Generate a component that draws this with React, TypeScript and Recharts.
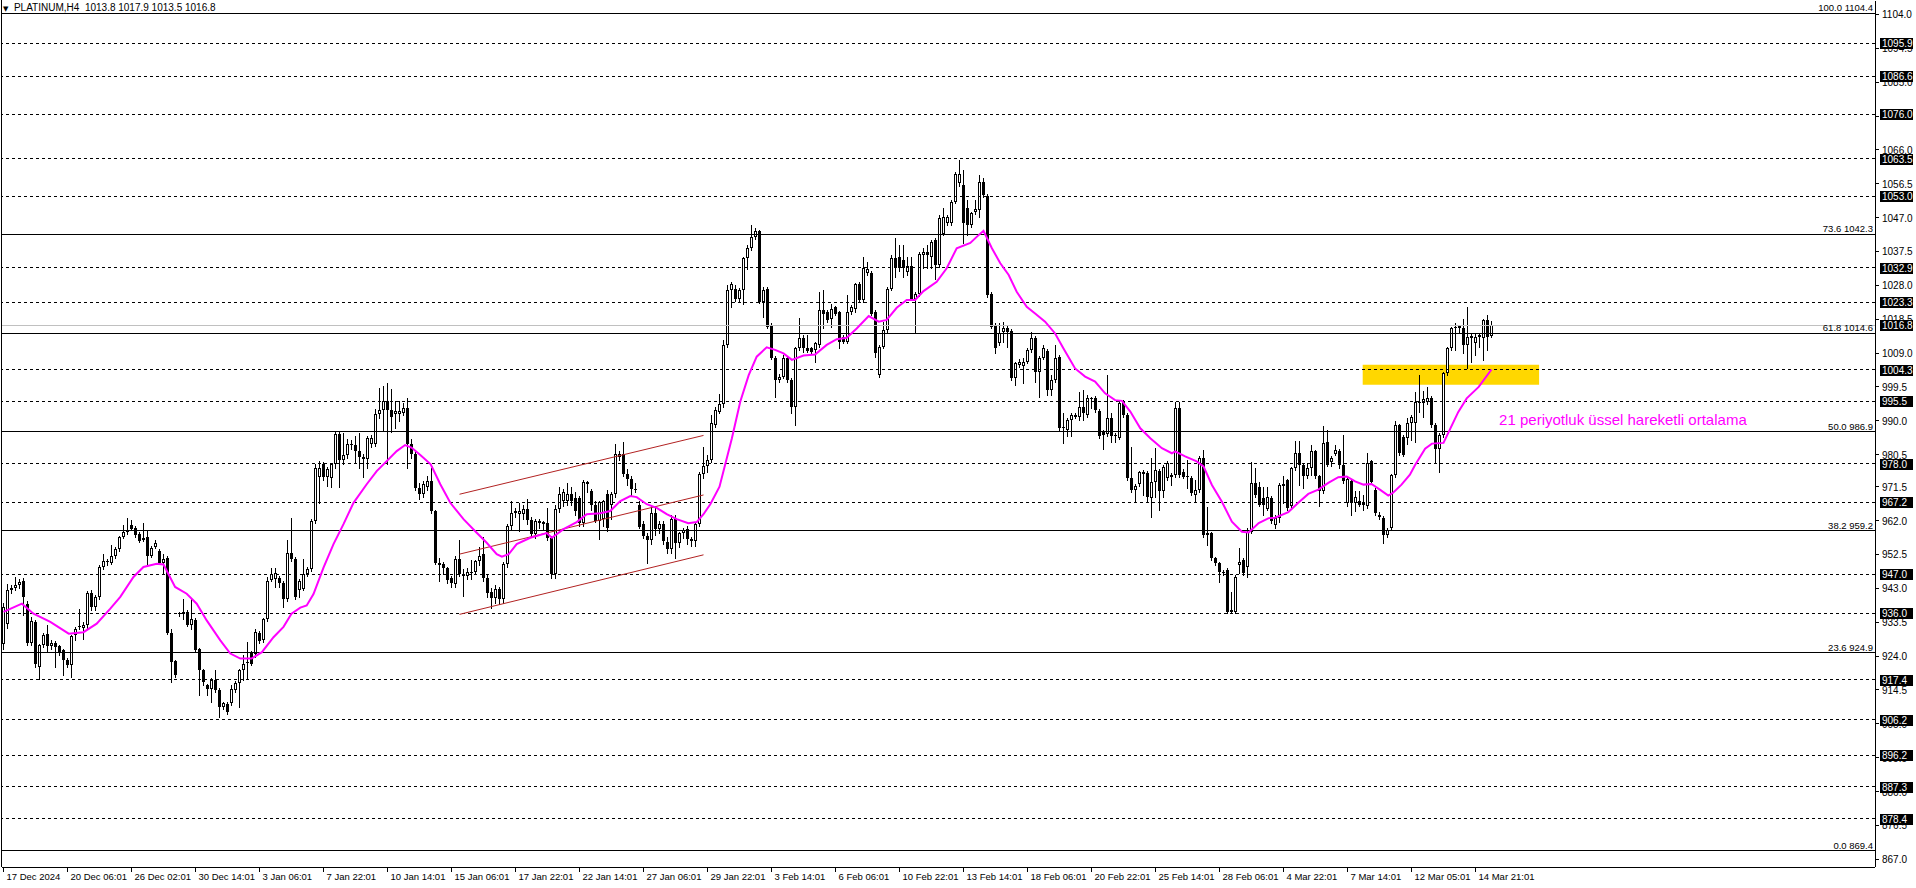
import React from "react";
import {
  ComposedChart,
  Bar,
  Line,
  XAxis,
  YAxis,
  ReferenceLine,
  ReferenceArea,
  ReferenceDot,
} from "recharts";

// PLATINUM H4 bars, 17 Dec 2024 -> 17 Mar 2025
const opens = [
  927.5, 933.0, 942.6, 943.2, 943.8, 945.0, 938.7, 927.8, 933.6, 921.0,
  927.0, 930.3, 926.7, 927.8, 926.8, 925.6, 923.0, 921.4, 929.8, 932.2,
  932.0, 932.8, 941.8, 937.8, 940.6, 949.0, 950.5, 950.1, 952.0, 953.9,
  957.4, 958.8, 960.7, 959.9, 958.3, 957.2, 957.4, 952.2, 954.6, 953.5,
  950.2, 951.5, 930.6, 922.5, 935.8, 935.7, 936.4, 932.8, 934.0, 925.9,
  920.0, 915.8, 914.9, 917.4, 914.6, 909.7, 910.5, 910.9, 914.4, 916.5,
  920.0, 922.0, 924.9, 924.7, 930.5, 928.4, 934.3, 945.4, 945.7, 945.9,
  944.5, 939.9, 952.9, 951.3, 942.6, 942.9, 947.1, 948.5, 961.9, 974.1,
  977.8, 974.1, 973.9, 977.8, 986.2, 978.9, 980.4, 983.6, 983.2, 981.5,
  979.9, 979.2, 983.6, 983.6, 991.8, 992.9, 995.6, 993.0, 991.8, 991.8,
  992.3, 993.7, 983.6, 980.8, 971.1, 969.4, 971.5, 973.0, 964.7, 950.2,
  949.8, 948.6, 945.8, 944.3, 951.2, 947.0, 946.5, 947.7, 947.7, 950.7,
  952.6, 945.8, 942.1, 940.4, 942.8, 939.9, 949.8, 960.5, 964.2, 963.8,
  963.8, 965.4, 962.2, 958.2, 961.4, 961.0, 961.4, 957.2, 947.0, 965.2,
  967.5, 967.5, 969.4, 968.3, 968.3, 961.4, 972.2, 970.3, 966.4, 961.8,
  962.4, 969.4, 966.4, 969.4, 979.9, 980.6, 975.2, 973.6, 971.0, 966.5,
  961.0, 957.7, 956.5, 964.0, 959.6, 961.0, 956.0, 954.0, 962.4, 955.8,
  958.4, 959.6, 956.8, 956.3, 961.0, 975.0, 977.3, 978.9, 988.8, 992.6,
  994.6, 1011.2, 1026.7, 1027.1, 1024.3, 1026.7, 1035.7, 1038.4, 1041.6, 1043.2,
  1023.2, 1027.1, 1016.9, 1007.7, 1001.4, 1002.4, 1007.5, 1001.4, 994.0, 1010.3,
  1013.1, 1010.5, 1010.3, 1009.9, 1011.2, 1021.1, 1020.6, 1018.7, 1021.8, 1020.4,
  1013.6, 1012.2, 1020.6, 1021.5, 1028.3, 1023.9, 1031.4, 1031.4, 1020.6, 1002.8,
  1010.8, 1015.5, 1027.1, 1035.6, 1036.0, 1035.1, 1031.8, 1033.4, 1024.3, 1025.7,
  1036.5, 1037.4, 1036.0, 1040.7, 1033.7, 1042.5, 1045.4, 1045.4, 1051.4, 1056.6,
  1056.1, 1049.6, 1044.9, 1048.6, 1049.1, 1057.0, 1053.1, 1025.6, 1016.9, 1011.7,
  1015.0, 1016.1, 1015.2, 1001.9, 1005.6, 1005.4, 1006.6, 1009.9, 1013.3, 1003.8,
  1007.7, 1009.6, 998.6, 1001.4, 1008.0, 987.9, 987.4, 990.2, 991.2, 991.2,
  993.8, 991.6, 996.3, 996.5, 992.8, 987.0, 986.2, 990.7, 985.6, 985.3,
  995.2, 991.6, 973.9, 970.6, 972.2, 975.0, 975.3, 968.3, 972.9, 975.9,
  970.3, 973.9, 974.3, 974.8, 993.5, 975.6, 974.6, 973.9, 969.2, 970.6,
  979.7, 958.4, 958.4, 951.4, 950.0, 947.7, 948.2, 936.5, 936.5, 949.6,
  951.0, 949.1, 958.9, 972.5, 971.5, 968.3, 965.4, 968.3, 960.9, 962.8,
  971.8, 973.3, 966.0, 976.8, 981.0, 977.5, 974.4, 976.8, 981.4, 974.4,
  970.2, 984.1, 978.4, 980.8, 981.6, 977.7, 966.9, 973.0, 966.9, 967.4,
  967.0, 966.0, 978.6, 970.7, 963.7, 962.8, 957.9, 959.8, 974.7, 988.7,
  985.5, 985.2, 989.3, 989.3, 995.3, 994.9, 995.3, 996.4, 988.8, 982.2,
  986.0, 1003.3, 1010.3, 1015.9, 1015.9, 1015.9, 1011.2, 1013.8, 1011.7, 1014.2,
  1013.1, 1018.2, 1013.8,
];

const highs = [
  939.0, 944.1, 943.8, 946.2, 945.7, 945.8, 939.5, 935.0, 934.2, 927.5,
  930.5, 932.6, 928.5, 928.3, 927.2, 926.0, 923.5, 930.0, 932.2, 937.3,
  933.5, 942.3, 942.5, 941.2, 949.5, 952.7, 951.2, 955.1, 954.5, 957.8,
  960.7, 962.8, 962.2, 960.5, 958.8, 961.3, 959.5, 954.8, 956.5, 954.0,
  952.7, 952.0, 931.7, 923.0, 936.5, 940.1, 937.0, 940.1, 934.6, 926.3,
  920.5, 916.3, 917.9, 920.2, 915.0, 911.2, 911.0, 915.8, 916.9, 920.4,
  924.2, 927.9, 925.4, 931.7, 931.0, 934.8, 946.2, 948.8, 948.8, 946.4,
  945.0, 956.5, 962.8, 951.8, 945.5, 951.3, 949.0, 962.4, 977.8, 978.7,
  978.5, 977.0, 978.3, 987.1, 986.9, 986.5, 985.0, 984.6, 985.7, 986.7,
  980.8, 985.6, 986.0, 993.2, 999.3, 999.8, 1000.7, 998.8, 995.5, 995.5,
  995.0, 996.5, 985.0, 981.5, 972.5, 973.0, 974.5, 976.9, 965.0, 951.5,
  950.5, 949.0, 946.5, 952.0, 956.5, 948.5, 948.8, 951.0, 951.0, 954.5,
  957.5, 947.0, 943.0, 944.0, 943.5, 950.3, 961.0, 967.5, 965.5, 967.0,
  966.5, 968.0, 963.0, 962.5, 962.5, 962.0, 965.5, 957.8, 966.5, 971.5,
  971.0, 972.5, 971.3, 970.0, 969.0, 973.5, 973.0, 971.0, 967.5, 967.5,
  967.8, 970.5, 970.0, 983.5, 981.5, 984.1, 976.5, 974.5, 972.5, 967.5,
  962.0, 958.5, 966.0, 965.5, 962.0, 962.0, 957.5, 963.5, 963.5, 958.8,
  960.0, 960.5, 957.5, 961.5, 975.5, 982.6, 980.5, 991.6, 993.9, 997.6,
  1012.6, 1028.1, 1029.0, 1028.0, 1027.3, 1036.0, 1039.3, 1044.9, 1044.0, 1043.6,
  1027.6, 1027.6, 1017.3, 1008.2, 1003.0, 1008.4, 1008.0, 1002.0, 1010.8, 1018.9,
  1014.0, 1014.1, 1010.8, 1012.2, 1026.2, 1026.7, 1021.0, 1022.9, 1022.3, 1020.9,
  1014.0, 1025.3, 1022.5, 1028.8, 1029.0, 1036.0, 1034.6, 1032.0, 1021.1, 1011.3,
  1017.8, 1027.6, 1036.5, 1041.2, 1039.3, 1039.3, 1036.0, 1036.0, 1026.2, 1037.4,
  1038.4, 1039.3, 1040.6, 1041.2, 1047.7, 1049.6, 1047.7, 1051.9, 1059.9, 1063.1,
  1060.3, 1051.9, 1048.7, 1051.9, 1058.9, 1058.2, 1053.6, 1026.1, 1017.4, 1017.3,
  1017.8, 1017.0, 1015.7, 1006.6, 1007.3, 1007.5, 1010.3, 1015.0, 1013.8, 1008.2,
  1011.2, 1010.1, 1002.8, 1011.3, 1008.5, 992.1, 990.7, 992.1, 992.1, 998.2,
  998.6, 997.2, 996.7, 997.0, 993.3, 987.5, 1002.8, 992.1, 986.6, 995.8,
  995.7, 992.1, 982.7, 972.3, 976.0, 976.2, 975.8, 979.7, 982.3, 976.4,
  977.6, 978.6, 975.3, 995.4, 995.4, 976.6, 979.0, 974.4, 973.4, 980.0,
  981.8, 965.9, 958.9, 951.9, 950.5, 948.2, 948.7, 942.1, 946.8, 954.3,
  951.5, 959.9, 978.5, 976.7, 972.9, 971.3, 971.3, 968.8, 963.7, 972.5,
  974.4, 973.6, 977.0, 984.2, 984.2, 978.0, 978.2, 983.3, 981.9, 974.9,
  988.5, 987.5, 980.1, 983.3, 982.1, 986.1, 974.5, 973.5, 970.2, 970.2,
  969.3, 981.0, 979.1, 971.2, 964.5, 963.3, 960.0, 975.2, 989.9, 989.2,
  986.0, 990.7, 991.6, 998.1, 1002.8, 998.5, 999.5, 996.9, 989.3, 986.5,
  1003.8, 1010.8, 1016.4, 1017.4, 1016.9, 1018.7, 1022.0, 1014.5, 1014.5, 1014.7,
  1018.7, 1019.6, 1017.9,
];

const lows = [
  926.0, 932.0, 941.8, 942.5, 943.0, 935.4, 927.0, 927.0, 920.9, 917.7,
  926.5, 925.1, 926.0, 920.9, 924.2, 918.6, 920.8, 918.1, 928.4, 931.7,
  928.9, 932.0, 937.0, 937.0, 940.0, 948.5, 949.6, 949.8, 951.5, 953.5,
  957.0, 958.3, 959.3, 957.5, 956.0, 956.2, 949.4, 951.7, 954.2, 949.8,
  947.1, 930.2, 916.7, 918.1, 935.3, 934.5, 932.3, 931.7, 925.3, 913.0,
  915.8, 913.0, 911.1, 913.9, 906.9, 909.2, 907.8, 910.4, 913.9, 909.7,
  917.2, 917.7, 921.4, 923.7, 927.6, 928.0, 933.8, 945.0, 943.4, 943.4,
  937.8, 939.4, 950.8, 940.1, 940.6, 942.4, 946.6, 948.0, 961.4, 967.0,
  973.5, 971.7, 971.4, 976.9, 971.3, 978.0, 979.6, 982.0, 978.3, 976.9,
  974.1, 976.9, 982.6, 983.0, 990.8, 987.1, 977.8, 987.0, 988.0, 990.0,
  991.5, 976.9, 979.5, 970.5, 968.0, 968.5, 970.5, 964.0, 949.8, 945.0,
  947.0, 944.5, 943.5, 943.5, 946.5, 940.9, 945.5, 945.5, 947.0, 949.5,
  945.0, 940.5, 937.5, 939.0, 938.5, 939.0, 949.0, 959.5, 963.0, 959.0,
  962.5, 961.0, 957.5, 957.0, 960.0, 959.5, 956.5, 946.0, 946.0, 964.5,
  966.0, 966.5, 966.5, 963.5, 960.5, 960.5, 970.0, 965.0, 961.5, 956.8,
  960.5, 959.0, 962.5, 968.5, 979.0, 974.5, 972.0, 969.0, 970.0, 960.0,
  957.0, 950.2, 955.5, 958.0, 958.5, 955.5, 953.0, 953.0, 951.5, 954.5,
  957.0, 955.5, 955.0, 955.0, 960.5, 974.0, 975.5, 978.4, 988.3, 992.1,
  994.0, 1010.7, 1022.0, 1023.5, 1023.4, 1022.9, 1032.7, 1037.8, 1041.0, 1023.0,
  1019.2, 1016.0, 1007.3, 996.8, 1000.8, 1001.9, 1000.9, 992.1, 988.8, 1009.8,
  1009.4, 1009.2, 1008.9, 1006.6, 1010.7, 1015.9, 1017.8, 1016.4, 1019.6, 1010.3,
  1011.7, 1011.7, 1020.0, 1020.6, 1023.4, 1023.4, 1030.9, 1019.6, 1008.0, 1002.3,
  1010.3, 1015.0, 1026.6, 1030.4, 1031.9, 1030.4, 1031.0, 1023.8, 1015.0, 1025.0,
  1032.8, 1032.8, 1032.8, 1029.9, 1033.2, 1042.0, 1045.0, 1045.0, 1051.0, 1056.0,
  1039.8, 1042.1, 1044.4, 1048.1, 1047.3, 1052.8, 1024.8, 1015.9, 1008.9, 1011.2,
  1012.2, 1010.8, 1001.4, 1000.0, 1005.1, 1000.5, 1006.1, 1009.4, 1001.0, 996.8,
  1007.2, 997.2, 997.2, 1000.9, 987.4, 983.7, 985.6, 985.6, 990.7, 990.2,
  990.2, 991.1, 993.5, 992.5, 985.1, 982.0, 985.7, 984.1, 984.1, 984.8,
  991.1, 973.4, 970.1, 967.3, 971.7, 969.2, 967.3, 963.1, 968.7, 965.0,
  968.7, 973.4, 972.0, 974.3, 974.3, 974.0, 971.1, 969.2, 967.3, 970.1,
  957.5, 955.2, 951.0, 949.5, 944.9, 946.8, 936.0, 936.0, 936.0, 947.2,
  946.8, 946.3, 958.4, 968.7, 966.0, 963.6, 964.9, 961.3, 959.9, 961.7,
  967.0, 965.1, 965.5, 976.3, 972.1, 971.2, 973.9, 974.9, 973.9, 966.0,
  969.7, 977.2, 977.2, 980.3, 976.8, 972.6, 966.0, 963.7, 964.6, 966.0,
  965.1, 965.5, 972.3, 963.7, 962.4, 955.7, 957.4, 959.3, 974.2, 980.5,
  980.0, 983.6, 984.6, 984.1, 992.5, 991.1, 994.8, 988.3, 978.5, 975.7,
  985.5, 1002.8, 1009.8, 1009.8, 1015.0, 1008.9, 1004.7, 1006.5, 1008.4, 1010.8,
  1007.0, 1009.8, 1013.5,
];

const closes = [
  937.8, 942.6, 943.2, 943.8, 944.8, 940.6, 927.8, 933.8, 921.7, 927.0,
  930.0, 926.7, 927.8, 926.5, 924.8, 922.8, 921.4, 929.5, 931.7, 932.4,
  932.8, 941.8, 937.8, 940.7, 949.0, 950.6, 950.8, 952.1, 953.9, 957.4,
  958.8, 959.5, 959.7, 958.0, 956.4, 956.6, 952.2, 954.3, 955.6, 950.2,
  951.3, 930.6, 922.2, 918.8, 936.0, 936.4, 932.8, 934.3, 925.6, 920.0,
  916.7, 914.9, 917.4, 914.6, 909.7, 910.7, 908.3, 914.9, 916.5, 920.0,
  921.9, 922.4, 921.9, 930.7, 928.1, 934.3, 945.2, 947.1, 947.3, 944.5,
  939.9, 952.9, 951.3, 940.7, 945.0, 947.1, 948.5, 961.9, 976.9, 976.7,
  974.1, 976.4, 977.8, 986.2, 978.9, 980.4, 983.6, 983.2, 981.5, 979.9,
  979.2, 985.1, 985.3, 991.8, 992.9, 995.6, 993.0, 991.0, 992.8, 992.8,
  993.7, 983.6, 980.6, 971.1, 969.4, 972.2, 973.0, 964.7, 950.2, 949.6,
  948.6, 945.4, 944.6, 951.2, 947.0, 946.5, 947.7, 947.3, 950.7, 952.1,
  945.8, 941.6, 940.4, 942.8, 939.9, 949.8, 960.5, 964.2, 964.7, 964.7,
  965.2, 962.2, 958.2, 961.9, 961.8, 961.6, 957.2, 947.0, 965.2, 969.4,
  969.9, 969.6, 967.5, 964.7, 961.4, 972.7, 972.7, 966.4, 962.0, 967.3,
  967.5, 960.0, 969.4, 980.6, 980.8, 975.0, 973.6, 970.8, 970.5, 960.2,
  957.7, 956.5, 964.0, 959.6, 961.0, 956.3, 954.0, 962.4, 955.8, 958.4,
  959.4, 956.8, 956.3, 961.0, 975.0, 977.3, 978.9, 989.3, 993.0, 994.6,
  1011.2, 1026.7, 1028.5, 1024.3, 1026.7, 1035.6, 1038.4, 1041.6, 1043.2, 1023.2,
  1026.7, 1016.4, 1007.7, 1001.4, 1002.4, 1007.5, 1001.4, 994.0, 1010.3, 1013.1,
  1010.3, 1009.6, 1009.4, 1011.7, 1021.1, 1020.1, 1018.3, 1021.5, 1020.1, 1012.2,
  1012.2, 1020.6, 1022.0, 1028.3, 1023.9, 1032.9, 1032.7, 1020.1, 1008.9, 1010.8,
  1015.5, 1027.1, 1035.6, 1032.8, 1032.8, 1032.8, 1033.3, 1024.3, 1025.7, 1036.9,
  1037.4, 1036.5, 1040.2, 1033.7, 1046.8, 1047.2, 1047.2, 1051.4, 1059.1, 1059.1,
  1045.4, 1044.9, 1048.2, 1049.3, 1057.0, 1053.3, 1025.3, 1016.4, 1010.3, 1014.5,
  1015.9, 1015.0, 1001.9, 1006.1, 1006.6, 1006.5, 1009.9, 1013.3, 1003.8, 1007.7,
  1010.3, 998.6, 1001.4, 1007.7, 987.9, 988.3, 990.2, 991.6, 991.6, 993.8,
  992.1, 996.3, 996.5, 993.0, 985.6, 986.0, 990.7, 985.8, 986.1, 994.9,
  991.6, 973.9, 970.6, 971.8, 975.5, 975.5, 968.5, 972.9, 976.2, 970.3,
  977.1, 978.1, 974.8, 993.5, 974.8, 974.3, 974.3, 969.7, 970.6, 979.7,
  958.0, 958.0, 951.4, 950.0, 947.7, 947.2, 936.5, 936.9, 946.3, 950.5,
  947.2, 958.9, 972.5, 969.2, 966.4, 966.4, 968.7, 961.9, 962.8, 972.1,
  972.4, 965.6, 976.8, 981.0, 977.5, 974.4, 976.8, 981.4, 974.4, 970.2,
  983.8, 977.7, 979.6, 981.9, 977.7, 973.0, 973.8, 967.0, 968.5, 966.5,
  966.3, 978.2, 972.8, 964.2, 962.9, 958.1, 959.5, 974.7, 988.7, 981.0,
  980.4, 989.4, 991.1, 995.3, 994.9, 996.2, 996.4, 988.8, 982.2, 986.0,
  1003.3, 1010.3, 1015.9, 1016.4, 1016.6, 1011.2, 1013.5, 1013.3, 1013.5, 1013.6,
  1018.2, 1013.5, 1016.8,
];

// 21-period EMA as drawn (bar position, value)
const emaBars = [
  0, 4.6, 7.5, 11.7, 16.3, 20, 23.3, 26.7, 29.2, 32.5,
  35, 38.3, 40, 42.9, 45.8, 48.3, 50.8, 54.2, 56.7, 59.2,
  62, 64.6, 67.5, 70, 72, 74.2, 75.8, 77.5, 80, 82.5,
  85, 87.5, 90.8, 93.3, 95.8, 98.3, 100.4, 102, 104.2, 106.8,
  109.2, 111.7, 115, 118.3, 120.8, 123.3, 124.6, 126.3, 128.3, 131.7,
  135.8, 137.1, 140, 143.3, 145.8, 149.2, 151.7, 154.2, 156.7, 158.3,
  160.8, 163.3, 165.8, 168.3, 171.2, 173.3, 175, 176.7, 179, 182.1,
  184.2, 186.3, 188.3, 190.8, 192.9, 195, 197.1, 200, 202.9, 205.8,
  208.3, 210.8, 213.3, 216.3, 218.8, 220.8, 223.3, 225.8, 227.9, 230,
  233.3, 235.8, 238.3, 241.7, 243.3, 245, 247.1, 249.2, 251.3, 253.3,
  255.8, 257.9, 260.4, 262.9, 265, 267.9, 270.4, 272.9, 275.4, 277.9,
  279.6, 281.7, 284.2, 286.7, 289.6, 292.1, 292.9, 295.4, 298.3, 300,
  302.1, 304.6, 307.1, 309.6, 311.3, 313.8, 316.3, 317.9, 321.2, 323.7,
  326.2, 328.7, 331.2, 333.7, 335.8, 337.9, 340, 342, 344.1, 346.2,
  347.4, 349.5, 351.6, 352.9, 355.4, 357.1, 360, 361.7, 363.7, 365.8,
  368.8, 372,
];
const emaValues = [
  936.4, 938.7, 935.9, 933.6, 930.3, 930.7, 933.1, 937.3, 940.6, 946.2,
  949.0, 949.9, 949.7, 943.4, 941.5, 938.7, 934.0, 928.4, 924.7, 923.3,
  923.3, 925.1, 929.3, 932.2, 935.9, 937.6, 938.2, 941.4, 948.8, 955.4,
  961.0, 967.0, 972.2, 975.9, 978.7, 981.5, 983.2, 982.5, 980.4, 977.8,
  972.2, 967.0, 962.4, 958.6, 955.8, 952.6, 951.9, 952.6, 955.4, 957.2,
  958.5, 957.2, 959.6, 961.6, 963.8, 964.1, 964.7, 967.5, 968.9, 968.6,
  966.6, 965.6, 963.8, 962.4, 961.3, 961.6, 963.8, 966.6, 971.5, 985.1,
  995.4, 1002.8, 1008.0, 1010.6, 1009.9, 1008.9, 1007.1, 1008.3, 1008.6, 1011.3,
  1012.9, 1013.3, 1015.9, 1019.4, 1017.8, 1018.3, 1021.7, 1023.9, 1023.9, 1026.4,
  1029.0, 1032.8, 1038.4, 1039.9, 1041.6, 1043.3, 1038.4, 1034.2, 1030.9, 1026.2,
  1022.0, 1020.1, 1017.8, 1014.5, 1010.3, 1004.7, 1002.4, 1001.0, 997.7, 995.8,
  995.6, 992.6, 987.9, 985.1, 982.3, 980.9, 981.4, 980.0, 978.6, 977.2,
  972.0, 967.3, 961.7, 958.9, 958.7, 961.3, 962.7, 962.8, 964.4, 967.0,
  969.5, 970.7, 972.6, 974.2, 974.4, 973.0, 972.1, 972.3, 970.7, 969.0,
  969.8, 972.1, 974.9, 977.6, 982.2, 983.6, 983.8, 987.8, 992.5, 996.3,
  999.5, 1004.4,
];

// time axis: one label every 16 bars
const timeLabels = [
  "17 Dec 2024", "20 Dec 06:01", "26 Dec 02:01", "30 Dec 14:01", "3 Jan 06:01",
  "7 Jan 22:01", "10 Jan 14:01", "15 Jan 06:01", "17 Jan 22:01", "22 Jan 14:01",
  "27 Jan 06:01", "29 Jan 22:01", "3 Feb 14:01", "6 Feb 06:01", "10 Feb 22:01",
  "13 Feb 14:01", "18 Feb 06:01", "20 Feb 22:01", "25 Feb 14:01", "28 Feb 06:01",
  "4 Mar 22:01", "7 Mar 14:01", "12 Mar 05:01", "14 Mar 21:01",
];
const barsPerLabel = 16;

const priceTicks = [
  1104.0, 1094.5, 1085.0, 1075.5, 1066.0, 1056.5, 1047.0, 1037.5, 1028.0,
  1018.5, 1009.0, 999.5, 990.0, 980.5, 971.5, 962.0, 952.5, 943.0, 933.5,
  924.0, 914.5, 905.0, 895.5, 886.0, 876.5, 867.0,
];

// horizontal levels (dashed) with their black price tags
const levelPrices = [
  1095.9, 1086.6, 1076.0, 1063.5, 1053.0, 1032.9, 1023.3, 1004.3, 995.5,
  978.0, 967.2, 947.0, 936.0, 917.4, 906.2, 896.2, 887.3, 878.4,
];

// fibonacci retracement
const fibRatios = ["100.0", "73.6", "61.8", "50.0", "38.2", "23.6", "0.0"];
const fibPrices = [1104.4, 1042.3, 1014.6, 986.9, 959.2, 924.9, 869.4];

// rising channel (start bar, end bar, three parallel lines)
const channelBars = [114, 175];
const channelStart = [969.4, 952.6, 935.7];
const channelEnd = [985.9, 969.2, 952.4];

// yellow zone
const zoneBars = [339.8, 383.9];
const zonePrices = [1000.1, 1005.7];

const noteText = "21 periyotluk üssel hareketli ortalama";
const noteBar = 373.9;
const notePrice = 989.9;

const FONT = '"Liberation Sans", Arial, sans-serif';
const n = closes.length;
const lastPrice = closes[n - 1];

const candles = closes.map((c, i) => ({
  i,
  o: opens[i],
  h: highs[i],
  l: lows[i],
  c,
}));
const emaRows = emaBars.map((b, k) => ({ i: b, ema: emaValues[k] }));

const Candle = (props: any) => {
  const { x, y, width, height, payload } = props;
  if (!payload || x == null) return null;
  const { o, h, l, c } = payload;
  const top = Math.min(y, y + height);
  const span = Math.abs(height);
  const k = h > l ? span / (h - l) : 0;
  const py = (v: number) => top + (h - v) * k;
  const cx = Math.floor(x + width / 2) + 0.5;
  const bTop = Math.round(py(Math.max(o, c)));
  const bBot = Math.round(py(Math.min(o, c)));
  const bull = c >= o;
  return (
    <g shapeRendering="crispEdges">
      <line
        x1={cx}
        x2={cx}
        y1={Math.round(py(h))}
        y2={Math.round(py(l)) + 1}
        stroke="#000"
      />
      {bBot - bTop < 2 ? (
        <line x1={cx - 1.5} x2={cx + 1.5} y1={bTop + 0.5} y2={bTop + 0.5} stroke="#000" />
      ) : bull ? (
        <rect
          x={cx - 1}
          y={bTop + 0.5}
          width={2}
          height={bBot - bTop - 1}
          fill="#fff"
          stroke="#000"
        />
      ) : (
        <rect x={cx - 1.5} y={bTop} width={3} height={bBot - bTop} fill="#000" />
      )}
    </g>
  );
};

const PriceTick = (props: any) => {
  const { x, y, payload } = props;
  const v = payload.value as number;
  const boxed = levelPrices.includes(v) || v === lastPrice;
  if (boxed) {
    return (
      <g>
        <rect x={x + 5} y={Math.round(y) - 5} width={33} height={11} fill="#000" />
        <text
          x={x + 7}
          y={y + 4}
          fill="#fff"
          fontSize={10}
          fontFamily={FONT}
        >
          {v.toFixed(1)}
        </text>
      </g>
    );
  }
  return (
    <g>
      <line x1={x} x2={x + 4} y1={y} y2={y} stroke="#000" shapeRendering="crispEdges" />
      <text x={x + 7} y={y + 4} fill="#000" fontSize={10} fontFamily={FONT}>
        {v.toFixed(1)}
      </text>
    </g>
  );
};

const TimeTick = (props: any) => {
  const { x, y, payload } = props;
  const label = timeLabels[Math.round(payload.value / barsPerLabel)];
  return (
    <g>
      <line x1={x} x2={x} y1={y} y2={y + 5} stroke="#000" shapeRendering="crispEdges" />
      <text x={x + 3} y={y + 13} fill="#000" fontSize={9.5} fontFamily={FONT}>
        {label}
      </text>
    </g>
  );
};

const FibLabel = ({ viewBox, text }: any) =>
  viewBox ? (
    <text
      x={viewBox.x + viewBox.width - 2}
      y={viewBox.y - 2}
      textAnchor="end"
      fill="#000"
      fontSize={9.5}
      fontFamily={FONT}
    >
      {text}
    </text>
  ) : null;

const NoteLabel = ({ viewBox }: any) =>
  viewBox ? (
    <text
      x={viewBox.x}
      y={viewBox.y}
      dominantBaseline="middle"
      fill="#ff00ff"
      fontSize={15}
      fontFamily={FONT}
    >
      {noteText}
    </text>
  ) : null;

export default function App() {
  return (
    <div
      style={{
        position: "absolute",
        left: 0,
        top: 0,
        width: 1916,
        height: 888,
        background: "#fff",
      }}
    >
      <ComposedChart
        width={1916}
        height={888}
        data={candles}
        margin={{ top: 1, right: 0, bottom: 0, left: 2 }}
      >
        <XAxis
          type="number"
          dataKey="i"
          domain={[-0.375, 467.875]}
          allowDataOverflow
          ticks={timeLabels.map((_, k) => k * barsPerLabel)}
          interval={0}
          tick={<TimeTick />}
          tickLine={false}
          tickSize={0}
          tickMargin={0}
          height={21}
          axisLine={{ stroke: "#000", shapeRendering: "crispEdges" }}
        />
        <YAxis
          orientation="right"
          type="number"
          domain={[864.83, 1107.77]}
          allowDataOverflow
          ticks={[...priceTicks, ...levelPrices, lastPrice]}
          interval={0}
          tick={<PriceTick />}
          tickLine={false}
          tickSize={0}
          tickMargin={0}
          width={41}
          axisLine={{ stroke: "#000", shapeRendering: "crispEdges" }}
        />
        <ReferenceArea
          x1={zoneBars[0]}
          x2={zoneBars[1]}
          y1={zonePrices[0]}
          y2={zonePrices[1]}
          fill="#ffd700"
          fillOpacity={1}
          stroke="none"
        />
        {levelPrices.map((p) => (
          <ReferenceLine
            key={`lv-${p}`}
            y={p}
            stroke="#000"
            strokeDasharray="3 3"
            shapeRendering="crispEdges"
          />
        ))}
        <ReferenceLine y={lastPrice} stroke="#c0c0c0" shapeRendering="crispEdges" />
        {fibPrices.map((p, k) => (
          <ReferenceLine
            key={`fib-${p}`}
            y={p}
            stroke="#000"
            shapeRendering="crispEdges"
            label={<FibLabel text={`${fibRatios[k]} ${p.toFixed(1)}`} />}
          />
        ))}
        {channelStart.map((p, k) => (
          <ReferenceLine
            key={`ch-${k}`}
            segment={[
              { x: channelBars[0], y: p },
              { x: channelBars[1], y: channelEnd[k] },
            ]}
            stroke="#b22222"
          />
        ))}
        <Bar
          dataKey={(d: any) => [d.l, d.h]}
          barSize={3}
          shape={<Candle />}
          isAnimationActive={false}
        />
        <Line
          data={emaRows}
          dataKey="ema"
          type="linear"
          stroke="#ff00ff"
          strokeWidth={2}
          dot={false}
          activeDot={false}
          isAnimationActive={false}
        />
        <ReferenceDot
          x={noteBar}
          y={notePrice}
          r={0}
          fill="none"
          stroke="none"
          ifOverflow="visible"
          label={<NoteLabel />}
        />
      </ComposedChart>
      <div
        style={{
          position: "absolute",
          left: 3,
          top: 2,
          fontFamily: FONT,
          fontSize: 10,
          color: "#000",
          whiteSpace: "pre",
          lineHeight: "12px",
        }}
      >
        <span style={{ fontSize: 7, fontFamily: '"DejaVu Sans", sans-serif' }}>▼</span>
        {`  PLATINUM,H4  ${opens[n - 1].toFixed(1)} ${highs[n - 1].toFixed(1)} ${lows[n - 1].toFixed(1)} ${closes[n - 1].toFixed(1)}`}
      </div>
      <div
        style={{
          position: "absolute",
          left: 1,
          top: 0,
          width: 1,
          height: 867,
          background: "#000",
        }}
      />
    </div>
  );
}
